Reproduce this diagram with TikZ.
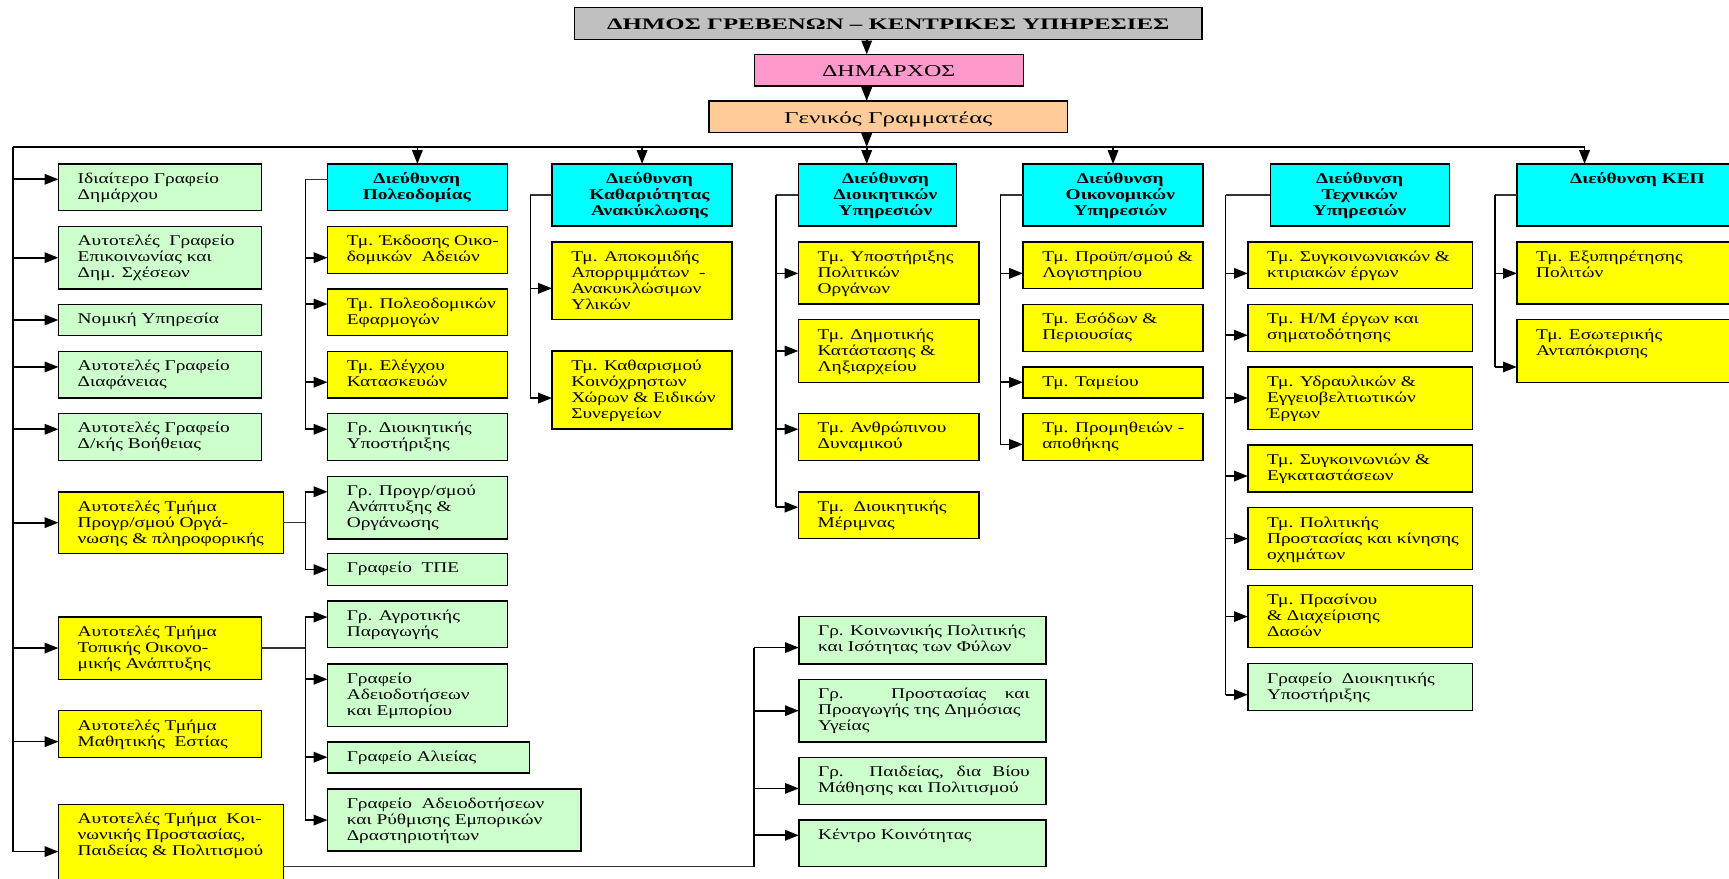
\documentclass[tikz,border=0pt]{standalone}
\usepackage{fontspec}
\setmainfont[FakeStretch=1.3]{Liberation Serif}
\usepackage{graphicx}
\usetikzlibrary{arrows.meta}
\definecolor{cgray}{HTML}{C0C0C0}
\definecolor{cpink}{HTML}{FF99CC}
\definecolor{corange}{HTML}{FFCC99}
\definecolor{ccyan}{HTML}{00FFFF}
\definecolor{cyel}{HTML}{FFFF00}
\definecolor{cgreen}{HTML}{CCFFCC}
% name, x1, y1, x2, y2, fill, text
\newcommand\orgL[7]{%
  \node[box,fill=#6,minimum width={#4-#2},minimum height={#5-#3}] (#1) at (#2,#3) {};
  \node[txt,anchor=north west] (#1t) at ([xshift=17.5pt,yshift=-7.4pt]#1.north west) {\strut #7};}
% name, x1, y1, x2, y2, fill, text centre x, text
\newcommand\orgD[8]{%
  \node[box,fill=#6,minimum width={#4-#2},minimum height={#5-#3}] (#1) at (#2,#3) {};
  \node[dtxt,anchor=north] (#1t) at (#7,#3+7.4) {\strut #8};}
% trunk coordinate, target node, y
\newcommand\harr[3]{\draw[arr] (#1 |- 0,#3) -- (#2.west |- 0,#3);}
\begin{document}
\begin{tikzpicture}[x=1pt,y=-1pt,
  box/.style={draw=black,line width=1.3pt,inner sep=0pt,outer sep=0pt,anchor=north west},
  txt/.style={inner sep=0pt,outer sep=0pt,align=left,font=\fontsize{13.5}{14.5}\selectfont},
  dtxt/.style={inner sep=0pt,outer sep=0pt,align=center,font=\fontsize{13.5}{14.5}\selectfont\bfseries},
  conn/.style={line width=1.5pt,black},
  conn2/.style={line width=1pt,black!80},
  arr/.style={conn,-{Triangle[length=12.5pt,width=9.5pt]}},
  ttl/.style={inner sep=0pt,outer sep=0pt,anchor=base}]
\useasboundingbox (0,0) rectangle (1568,797);
\fill[white] (0,0) rectangle (1568,797);
\clip (0,0) rectangle (1568,797);

% ---------- top ----------
\node[box,fill=cgray,minimum width={1090-521},minimum height={35.7-6.7}] (title) at (521,6.7) {};
\node[ttl,font=\fontsize{14.5}{16}\selectfont\bfseries] (titlet) at (805.5,27.2) {\resizebox{510pt}{\height}{ΔΗΜΟΣ ΓΡΕΒΕΝΩΝ – ΚΕΝΤΡΙΚΕΣ ΥΠΗΡΕΣΙΕΣ}};
\node[box,fill=cpink,minimum width={928-684},minimum height={78-49.3}] (mayor) at (684,49.3) {};
\node[ttl,font=\fontsize{15}{17}\selectfont] (mayort) at (806,69.5) {\resizebox{121pt}{\height}{ΔΗΜΑΡΧΟΣ}};
\node[box,fill=corange,minimum width={968-643},minimum height={120-91.6}] (gg) at (643,91.6) {};
\node[ttl,font=\fontsize{15}{17}\selectfont] (ggt) at (805.5,112) {\resizebox{189pt}{\height}{Γενικός Γραμματέας}};

\coordinate (busL) at (12,133.3);
\coordinate (busM) at (786,133.3);
\coordinate (busR) at (1437,133.3);
\coordinate (lEnd) at (12,772.3);

\draw[arr] (title.south -| busM) -- (mayor.north -| busM);
\draw[arr] (mayor.south -| busM) -- (gg.north -| busM);
\draw[arr] (gg.south -| busM) -- (busM);
\draw[conn] (busL) -- (busR);
\draw[conn] (busL) -- (lEnd);

% ---------- left column ----------
\orgL{L1}{53}{148.7}{237}{191}{cgreen}{Ιδιαίτερο Γραφείο\\Δημάρχου}
\orgL{L2}{53}{205.3}{237}{262}{cgreen}{Αυτοτελές\ \ Γραφείο\\Επικοινωνίας και\\Δημ. Σχέσεων}
\orgL{L3}{53}{276}{237}{304}{cgreen}{Νομική Υπηρεσία}
\orgL{L4}{53}{318.6}{237}{361}{cgreen}{Αυτοτελές Γραφείο\\Διαφάνειας}
\orgL{L5}{53}{375}{237}{417.5}{cgreen}{Αυτοτελές Γραφείο\\Δ/κής Βοήθειας}
\orgL{L6}{53}{446}{257}{502}{cyel}{Αυτοτελές Τμήμα\\Προγρ/σμού Οργά-\\νωσης \& πληροφορικής}
\orgL{L7}{53}{559.6}{237}{616}{cyel}{Αυτοτελές Τμήμα\\Τοπικής Οικονο-\\μικής Ανάπτυξης}
\orgL{L8}{53}{644.5}{237}{687}{cyel}{Αυτοτελές Τμήμα\\Μαθητικής\ \ Εστίας}
\orgL{L9}{53}{729.4}{257}{812}{cyel}{Αυτοτελές Τμήμα\ \ Κοι-\\νωνικής Προστασίας,\\Παιδείας \& Πολιτισμού}
\harr{busL}{L1}{162.6}
\harr{busL}{L2}{233.7}
\harr{busL}{L3}{290.2}
\harr{busL}{L4}{332.8}
\harr{busL}{L5}{389.3}
\harr{busL}{L6}{474}
\harr{busL}{L7}{587.7}
\harr{busL}{L8}{672.6}
\harr{busL}{L9}{772.3}

% ---------- Πολεοδομίας ----------
\orgD{P0}{297}{148.7}{460}{191}{ccyan}{378}{Διεύθυνση\\Πολεοδομίας}
\draw[arr] (busL -| P0.north) -- (P0.north);
\coordinate (pV) at (277,162.6);
\coordinate (pVe) at (277,389.3);
\draw[conn2] (P0.west |- pV) -- (pV);
\draw[conn] (pV) -- (pVe);
\orgL{P1}{297}{205.3}{460}{247.9}{cyel}{Τμ. Έκδοσης Οικο-\\δομικών\ \ Αδειών}
\orgL{P2}{297}{262}{460}{304}{cyel}{Τμ. Πολεοδομικών\\Εφαρμογών}
\orgL{P3}{297}{318.6}{460}{361}{cyel}{Τμ. Ελέγχου\\Κατασκευών}
\orgL{P4}{297}{375}{460}{417.5}{cgreen}{Γρ. Διοικητικής\\Υποστήριξης}
\harr{pV}{P1}{233.7}
\harr{pV}{P2}{275.7}
\harr{pV}{P3}{346.6}
\harr{pV}{P4}{389.3}

% group under L6
\orgL{G1}{297}{432}{460}{489}{cgreen}{Γρ. Προγρ/σμού\\Ανάπτυξης \&\\Οργάνωσης}
\orgL{G2}{297}{502}{460}{531}{cgreen}{Γραφείο\ \ ΤΠΕ}
\coordinate (gV) at (277,446);
\coordinate (gVe) at (277,516.6);
\draw[conn2] (L6.east |- 0,474) -- (gV |- 0,474);
\draw[conn] (gV) -- (gVe);
\harr{gV}{G1}{446}
\harr{gV}{G2}{516.6}

% group under L7
\orgL{T1}{297}{545}{460}{587}{cgreen}{Γρ. Αγροτικής\\Παραγωγής}
\orgL{T2}{297}{602}{460}{659}{cgreen}{Γραφείο\\Αδειοδοτήσεων\\και Εμπορίου}
\orgL{T3}{297}{673}{480}{701}{cgreen}{Γραφείο Αλιείας}
\orgL{T4}{297}{715.6}{527}{771.8}{cgreen}{Γραφείο\ \ Αδειοδοτήσεων\\και Ρύθμισης Εμπορικών\\Δραστηριοτήτων}
\coordinate (tV) at (277,559.6);
\coordinate (tVe) at (277,743.7);
\draw[conn2] (L7.east |- 0,587.7) -- (tV |- 0,587.7);
\draw[conn] (tV) -- (tVe);
\harr{tV}{T1}{559.6}
\harr{tV}{T2}{616}
\harr{tV}{T3}{686.7}
\harr{tV}{T4}{743.7}

% ---------- Καθαριότητας ----------
\orgD{K0}{500.6}{148.7}{664}{205}{ccyan}{589}{Διεύθυνση\\Καθαριότητας\\Ανακύκλωσης}
\draw[arr] (busL -| K0.north) -- (K0.north);
\coordinate (kV) at (481,176.8);
\coordinate (kVe) at (481,361);
\draw[conn2] (K0.west |- kV) -- (kV);
\draw[conn] (kV) -- (kVe);
\orgL{K1}{500.6}{219.5}{664}{290}{cyel}{Τμ. Αποκομιδής\\Απορριμμάτων\ \ -\\Ανακυκλώσιμων\\Υλικών}
\orgL{K2}{500.6}{318.5}{664}{389}{cyel}{Τμ. Καθαρισμού\\Κοινόχρηστων\\Χώρων \& Ειδικών\\Συνεργείων}
\harr{kV}{K1}{261.5}
\harr{kV}{K2}{361}

% ---------- Διοικητικών ----------
\orgD{D0}{724}{148.7}{867.6}{205}{ccyan}{803}{Διεύθυνση\\Διοικητικών\\Υπηρεσιών}
\draw[arr] (busM) -- (D0.north -| busM);
\coordinate (dV) at (704,176.8);
\coordinate (dVe) at (704,460);
\draw[conn2] (D0.west |- dV) -- (dV);
\draw[conn] (dV) -- (dVe);
\orgL{D1}{724}{219.5}{888}{275.8}{cyel}{Τμ. Υποστήριξης\\Πολιτικών\\Οργάνων}
\orgL{D2}{724}{290}{888}{346.7}{cyel}{Τμ. Δημοτικής\\Κατάστασης \&\\Ληξιαρχείου}
\orgL{D3}{724}{375}{888}{417.8}{cyel}{Τμ. Ανθρώπινου\\Δυναμικού}
\orgL{D4}{724}{446}{888}{488.5}{cyel}{Τμ.\ \ Διοικητικής\\Μέριμνας}
\harr{dV}{D1}{247.9}
\harr{dV}{D2}{318.3}
\harr{dV}{D3}{389.3}
\harr{dV}{D4}{460}

% ---------- lower middle (under L9) ----------
\orgL{M1}{724.4}{559.2}{948.6}{602.2}{cgreen}{Γρ. Κοινωνικής Πολιτικής\\και Ισότητας των Φύλων}
\orgL{M2}{724.4}{616}{948.6}{673}{cgreen}{\makebox[192pt][s]{Γρ. Προστασίας και}\\Προαγωγής της Δημόσιας\\Υγείας}
\orgL{M3}{724.4}{686.8}{948.6}{729.4}{cgreen}{\makebox[192pt][s]{Γρ. Παιδείας, δια Βίου}\\Μάθησης και Πολιτισμού}
\orgL{M4}{724.4}{743.6}{948.6}{786}{cgreen}{Κέντρο Κοινότητας}
\coordinate (mV) at (684,587.3);
\coordinate (mVe) at (684,786);
\draw[conn2] (L9.east |- mVe) -- (mVe);
\draw[conn] (mVe) -- (mV);
\harr{mV}{M1}{587.3}
\harr{mV}{M2}{644.5}
\harr{mV}{M3}{715}
\harr{mV}{M4}{757.5}

% ---------- Οικονομικών ----------
\orgD{O0}{927.7}{148.7}{1091}{205}{ccyan}{1016}{Διεύθυνση\\Οικονομικών\\Υπηρεσιών}
\draw[arr] (busL -| O0.north) -- (O0.north);
\coordinate (oV) at (907.3,176.8);
\coordinate (oVe) at (907.3,403);
\draw[conn2] (O0.west |- oV) -- (oV);
\draw[conn] (oV) -- (oVe);
\orgL{O1}{927.7}{219.5}{1091}{261.8}{cyel}{Τμ. Προϋπ/σμού \&\\Λογιστηρίου}
\orgL{O2}{927.7}{276}{1091}{318.6}{cyel}{Τμ. Εσόδων \&\\Περιουσίας}
\orgL{O3}{927.7}{332.8}{1091}{361}{cyel}{Τμ. Ταμείου}
\orgL{O4}{927.7}{375}{1091}{417.8}{cyel}{Τμ. Προμηθειών -\\αποθήκης}
\harr{oV}{O1}{247.9}
\harr{oV}{O3}{346.7}
\harr{oV}{O4}{403}

% ---------- Τεχνικών ----------
\orgD{E0}{1152}{148.7}{1314.5}{205}{ccyan}{1233}{Διεύθυνση\\Τεχνικών\\Υπηρεσιών}
\coordinate (eV) at (1111.5,176.8);
\coordinate (eVe) at (1111.5,630);
\draw[conn2] (E0.west |- eV) -- (eV);
\draw[conn] (eV) -- (eVe);
\orgL{E1}{1131.6}{219.5}{1335.5}{261.8}{cyel}{Τμ. Συγκοινωνιακών \&\\κτιριακών έργων}
\orgL{E2}{1131.6}{276}{1335.5}{318.6}{cyel}{Τμ. Η/Μ έργων και\\σηματοδότησης}
\orgL{E3}{1131.6}{332.8}{1335.5}{389.3}{cyel}{Τμ. Υδραυλικών \&\\Εγγειοβελτιωτικών\\Έργων}
\orgL{E4}{1131.6}{403.6}{1335.5}{446}{cyel}{Τμ. Συγκοινωνιών \&\\Εγκαταστάσεων}
\orgL{E5}{1131.6}{460.4}{1335.5}{516.6}{cyel}{Τμ. Πολιτικής\\Προστασίας και κίνησης\\οχημάτων}
\orgL{E6}{1131.6}{531}{1335.5}{587.3}{cyel}{Τμ. Πρασίνου\\\& Διαχείρισης\\Δασών}
\orgL{E7}{1131.6}{601.9}{1335.5}{644.5}{cgreen}{Γραφείο\ \ Διοικητικής\\Υποστήριξης}
\harr{eV}{E1}{247.9}
\harr{eV}{E2}{304}
\harr{eV}{E3}{361}
\harr{eV}{E4}{431.7}
\harr{eV}{E5}{488.5}
\harr{eV}{E6}{559.2}
\harr{eV}{E7}{630}

% ---------- ΚΕΠ ----------
\orgD{C0}{1375.6}{148.7}{1600}{205}{ccyan}{1485}{Διεύθυνση ΚΕΠ}
\draw[arr] (busR) -- (C0.north -| busR);
\coordinate (cV) at (1355.8,176.8);
\coordinate (cVe) at (1355.8,332.8);
\draw[conn2] (C0.west |- cV) -- (cV);
\draw[conn] (cV) -- (cVe);
\orgL{C1}{1375.6}{219.5}{1600}{275.8}{cyel}{Τμ. Εξυπηρέτησης\\Πολιτών}
\orgL{C2}{1375.6}{290}{1600}{346.7}{cyel}{Τμ. Εσωτερικής\\Ανταπόκρισης}
\harr{cV}{C1}{247.9}
\harr{cV}{C2}{332.8}
\end{tikzpicture}
\end{document}
